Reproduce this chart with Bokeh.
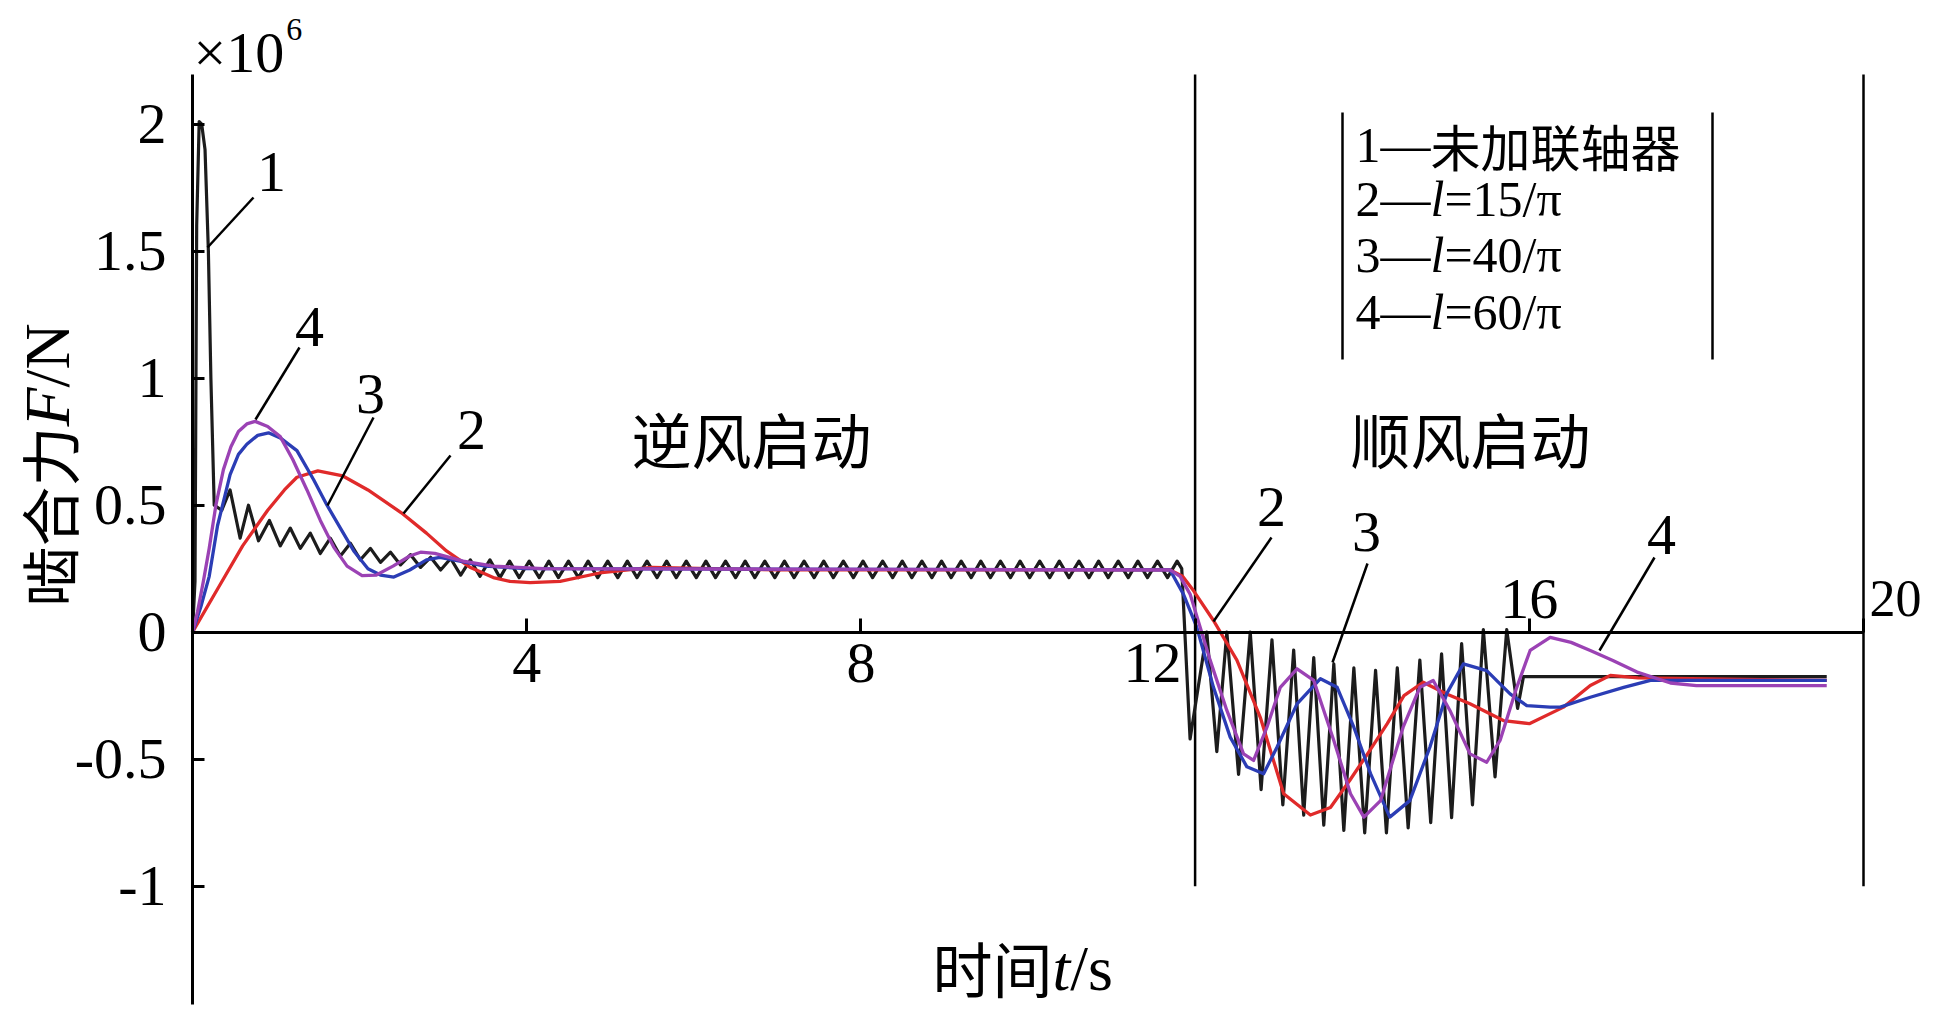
import math
from bokeh.plotting import figure
from bokeh.models import Range1d, FixedTicker, LinearAxis
from bokeh.core.properties import value
from bokeh.embed import file_html
from bokeh.resources import INLINE

# ---------------- data ----------------
y_ticks = [-1, -0.5, 0, 0.5, 1, 1.5, 2]
y_tick_labels = ["-1", "-0.5", "0", "0.5", "1", "1.5", "2"]
x_ticks = [4, 8, 12, 16, 20]
x_tick_labels = ["4", "8", "12", "16", "20"]
phase_bounds = [12, 20]
phase_names = ["逆风启动", "顺风启动"]

# curve 1: without coupling (black)
black_t = [0, 0.03, 0.05, 0.08, 0.11, 0.15, 0.19, 0.22, 0.26, 0.35, 0.45, 0.57, 0.67, 0.79, 0.92,
           1.05, 1.17, 1.29, 1.41, 1.53, 1.65, 1.77, 1.89, 2.01, 2.13, 2.25, 2.37, 2.49, 2.61,
           2.73, 2.85, 2.97,
           3.09, 3.21, 3.325, 3.44, 3.56, 3.68, 3.795, 3.91, 4.03, 4.15, 4.265, 4.38, 4.50, 4.62,
           4.735, 4.85, 4.97, 5.09, 5.205, 5.32, 5.44, 5.56, 5.675, 5.79, 5.91, 6.03, 6.145, 6.26,
           6.38, 6.50, 6.615, 6.73, 6.85, 6.97, 7.085, 7.20, 7.32, 7.44, 7.555, 7.67, 7.79, 7.91,
           8.025, 8.14, 8.26, 8.38, 8.495, 8.61, 8.73, 8.85, 8.965, 9.08, 9.20, 9.32, 9.435, 9.55,
           9.67, 9.79, 9.905, 10.02, 10.14, 10.26, 10.375, 10.49, 10.61, 10.73, 10.845, 10.96,
           11.08, 11.20, 11.315, 11.43, 11.55, 11.67, 11.785,
           11.84, 11.94, 12.14, 12.26, 12.38, 12.52, 12.66, 12.79, 12.92, 13.05, 13.18, 13.30,
           13.42, 13.54, 13.66, 13.78, 13.90, 14.03, 14.16, 14.29, 14.42, 14.55, 14.69, 14.82,
           14.95, 15.07, 15.19, 15.32, 15.45, 15.59, 15.73, 15.86, 15.93, 19.56]
black_F = [0, 0.20, 1.60, 2.01, 2.00, 1.90, 1.50, 1.00, 0.50, 0.48, 0.56, 0.37, 0.50, 0.36, 0.44,
           0.34, 0.41, 0.33, 0.39, 0.31, 0.37, 0.30, 0.35, 0.285, 0.33, 0.275, 0.315, 0.265, 0.305,
           0.255, 0.295, 0.245,
           0.29, 0.225, 0.285, 0.22, 0.285, 0.215, 0.28, 0.215, 0.28, 0.215, 0.28, 0.215, 0.28, 0.215,
           0.28, 0.215, 0.28, 0.215, 0.28, 0.215, 0.28, 0.215, 0.28, 0.215, 0.28, 0.215, 0.28, 0.215,
           0.28, 0.215, 0.28, 0.215, 0.28, 0.215, 0.28, 0.215, 0.28, 0.215, 0.28, 0.215, 0.28, 0.215,
           0.28, 0.215, 0.28, 0.215, 0.28, 0.215, 0.28, 0.215, 0.28, 0.215, 0.28, 0.215, 0.28, 0.215,
           0.28, 0.215, 0.28, 0.215, 0.28, 0.215, 0.28, 0.215, 0.28, 0.215, 0.28, 0.215,
           0.28, 0.215, 0.28, 0.215, 0.28, 0.215, 0.28,
           0.25, -0.42, 0.0, -0.47, 0.0, -0.56, 0.0, -0.62, -0.03, -0.68, -0.07, -0.72,
           -0.10, -0.76, -0.125, -0.78, -0.14, -0.79, -0.15, -0.79, -0.14, -0.77, -0.11, -0.75,
           -0.085, -0.73, -0.045, -0.68, 0.01, -0.57, 0.01, -0.30, -0.175, -0.175]

# curve 2: l = 15/pi (red)
red_t = [0, 0.3, 0.6, 0.9, 1.1, 1.25, 1.5, 1.8, 2.1, 2.5, 2.8, 3.04, 3.32, 3.6, 3.8, 4.04,
         4.4, 4.9, 5.5, 6.2, 7.0, 11.7, 11.85, 11.98, 12.22, 12.5, 12.78, 13.06, 13.38, 13.62,
         13.85, 14.09, 14.3, 14.5, 14.73, 15.01, 15.29, 15.69, 16.0, 16.41, 16.73, 16.97, 17.3,
         19.56]
red_F = [0, 0.17, 0.34, 0.48, 0.56, 0.61, 0.635, 0.615, 0.56, 0.47, 0.39, 0.32, 0.256, 0.215,
         0.20, 0.195, 0.20, 0.235, 0.255, 0.25, 0.245, 0.245, 0.22, 0.164, 0.046, -0.11, -0.335,
         -0.636, -0.72, -0.69, -0.584, -0.466, -0.36, -0.25, -0.197, -0.243, -0.282, -0.348,
         -0.36, -0.295, -0.21, -0.17, -0.18, -0.19]

# curve 3: l = 40/pi (blue)
blue_t = [0, 0.1, 0.2, 0.3, 0.45, 0.55, 0.65, 0.78, 0.91, 1.05, 1.25, 1.45, 1.61, 1.77, 1.93,
          2.1, 2.25, 2.41, 2.6, 2.8, 2.96, 3.2, 3.5, 4.0, 11.7, 11.86, 12.02, 12.22, 12.42, 12.62,
          12.82, 12.98, 13.22, 13.5, 13.7, 13.9, 14.1, 14.33, 14.57, 14.81, 15.01, 15.21, 15.49,
          15.77, 15.97, 16.25, 16.37, 16.73, 17.13, 17.45, 19.56]
blue_F = [0, 0.10, 0.22, 0.42, 0.62, 0.70, 0.74, 0.775, 0.785, 0.765, 0.715, 0.60, 0.50, 0.41,
          0.32, 0.25, 0.225, 0.217, 0.245, 0.285, 0.295, 0.28, 0.26, 0.25, 0.245, 0.15, 0.02,
          -0.217, -0.413, -0.53, -0.557, -0.453, -0.282, -0.183, -0.217, -0.374, -0.557, -0.728,
          -0.663, -0.453, -0.243, -0.125, -0.151, -0.243, -0.289, -0.295, -0.295, -0.256,
          -0.217, -0.19, -0.19]

# curve 4: l = 60/pi (purple)
purple_t = [0, 0.06, 0.13, 0.2, 0.28, 0.37, 0.46, 0.55, 0.65, 0.75, 0.9, 1.05, 1.2, 1.37, 1.53,
            1.69, 1.85, 2.03, 2.2, 2.4, 2.6, 2.73, 2.9, 3.24, 3.6, 4.2, 11.7, 11.82, 11.94, 12.18,
            12.38, 12.58, 12.7, 12.86, 13.02, 13.22, 13.42, 13.66, 13.86, 14.02, 14.22, 14.49,
            14.69, 14.85, 15.05, 15.29, 15.49, 15.65, 15.85, 16.01, 16.25, 16.5, 16.73, 17.0,
            17.29, 17.69, 18.0, 19.56]
purple_F = [0, 0.08, 0.20, 0.33, 0.50, 0.64, 0.73, 0.79, 0.82, 0.83, 0.81, 0.77, 0.68, 0.56,
            0.44, 0.335, 0.26, 0.223, 0.225, 0.26, 0.30, 0.315, 0.31, 0.28, 0.26, 0.25, 0.245,
            0.22, 0.15, -0.11, -0.308, -0.479, -0.505, -0.374, -0.217, -0.144, -0.19, -0.426,
            -0.636, -0.728, -0.663, -0.374, -0.217, -0.19, -0.308, -0.479, -0.512, -0.426,
            -0.217, -0.072, -0.02, -0.04, -0.072, -0.111, -0.157, -0.20, -0.21, -0.21]

legend_nums = ["1", "2", "3", "4"]
legend_sym = ["", "l", "l", "l"]
legend_rest = ["未加联轴器", "=15/π", "=40/π", "=60/π"]

# ---------------- layout (reference pixel geometry) ----------------
W, H = 1922, 1011
X0, XS = 192.0, 83.55     # ref px of t=0, px per second
Y0, YS = 631.7, 254.0     # ref px of F=0, px per 1e6 N


def t_of(x):
    return (x - X0) / XS


def f_of(y):
    return (Y0 - y) / YS


SERIF = "Liberation Serif"
CJK = "Noto Sans CJK SC"
EM = {"0": .5, "1": .5, "2": .5, "3": .5, "4": .5, "5": .5, "6": .5, "7": .5, "8": .5, "9": .5,
      "—": 1.0, "=": .564, "/": .278, "π": .55, "×": .564, "l": .278, "t": .278, "F": .611,
      "N": .722, "s": .389, ".": .25, "-": .333}


def w(s, size):
    return sum(EM.get(c, 1.0) for c in s) * size


p = figure(width=W, height=H, title=None,
           x_range=Range1d(t_of(0), t_of(W)), y_range=Range1d(f_of(H), f_of(0)),
           output_backend="svg", toolbar_location=None,
           x_axis_location=None, y_axis_location=None, min_border=0)
p.outline_line_color = None
p.grid.visible = False
p.background_fill_color = "white"
p.border_fill_color = "white"

# y axis drawn at t = 0
yax = LinearAxis(fixed_location=0, bounds=(f_of(1004), f_of(74)),
                 ticker=FixedTicker(ticks=y_ticks),
                 major_label_overrides={float(k): v for k, v in zip(y_ticks, y_tick_labels)},
                 axis_line_width=3, axis_line_color="black",
                 major_tick_in=12, major_tick_out=0, major_tick_line_width=3,
                 major_tick_line_color="black", minor_tick_in=0, minor_tick_out=0,
                 major_label_text_font=SERIF, major_label_text_font_size="58px",
                 major_label_text_color="black", major_label_standoff=26)
p.add_layout(yax, "left")

# x axis drawn at F = 0 (labels placed by hand)
xax = LinearAxis(fixed_location=0, bounds=(0, phase_bounds[-1]),
                 ticker=FixedTicker(ticks=x_ticks),
                 major_label_overrides={float(k): "" for k in x_ticks},
                 axis_line_width=3, axis_line_color="black",
                 major_tick_in=14, major_tick_out=0, major_tick_line_width=3,
                 major_tick_line_color="black", minor_tick_in=0, minor_tick_out=0,
                 major_label_text_font_size="1px")
p.add_layout(xax, "below")


def txt(x, y, s, size, font=SERIF, style="normal", align="left", baseline="middle", angle=0.0):
    p.text(x=[t_of(x)], y=[f_of(y)], text=[s], text_font=value(font),
           text_font_size=value(f"{size}px"), text_font_style=style,
           text_align=align, text_baseline=baseline, text_color="black", angle=angle)


# phase separators
p.segment(x0=phase_bounds, y0=[-1] * 2, x1=phase_bounds, y1=[f_of(74)] * 2,
          line_color="black", line_width=2.5)

# x tick labels
xl_pos = {"4": (None, 662, "center", 58), "8": (None, 662, "center", 58),
          "12": (1181, 662, "right", 58), "16": (None, 598, "center", 58),
          "20": (1869, 598, "left", 52)}
for tv, lab in zip(x_ticks, x_tick_labels):
    xx, yy, al, fs = xl_pos[lab]
    xpx = X0 + tv * XS if xx is None else xx
    txt(xpx, yy, lab, fs, align=al)

# multiplier
txt(193, 52, "×10", 58)
txt(193 + w("×10", 58) + 2, 29, "6", 32)

# curves
p.line(black_t, black_F, line_color="#1c1c1c", line_width=3.2, line_join="round")
p.line(red_t, red_F, line_color="#e02a2a", line_width=3.3, line_join="round")
p.line(blue_t, blue_F, line_color="#2b3db5", line_width=3.3, line_join="round")
p.line(purple_t, purple_F, line_color="#9b42b4", line_width=3.3, line_join="round")

# curve number labels with leader lines
nums = [("1", 271, 171), ("4", 309, 326), ("3", 370, 393), ("2", 471, 429),
        ("2", 1271, 506), ("3", 1366, 531), ("4", 1661, 534)]
for s, x, y in nums:
    txt(x, y, s, 58, align="center")
leaders = [(253, 197, 207, 247), (299, 347, 255, 419), (373, 417, 327, 505), (450, 455, 403, 513),
           (1271, 537, 1213, 621), (1367, 563, 1332, 662), (1654, 557, 1599, 650)]
p.segment(x0=[t_of(a[0]) for a in leaders], y0=[f_of(a[1]) for a in leaders],
          x1=[t_of(a[2]) for a in leaders], y1=[f_of(a[3]) for a in leaders],
          line_color="black", line_width=2.5)

# phase names
txt(631, 437, phase_names[0], 60, font=CJK)
txt(1350, 437, phase_names[1], 60, font=CJK)

# legend box
p.segment(x0=[t_of(1342), t_of(1712)], y0=[f_of(359)] * 2, x1=[t_of(1342), t_of(1712)],
          y1=[f_of(112)] * 2, line_color="black", line_width=2.5)
rows_y = [144, 198, 254, 311]
LS = 50
for num, sym, rest, yy in zip(legend_nums, legend_sym, legend_rest, rows_y):
    x = 1355
    txt(x, yy, num + "—", LS)
    x += w(num + "—", LS)
    if sym:
        txt(x, yy, sym, LS, style="italic")
        x += w(sym, LS)
        txt(x, yy, rest, LS)
    else:
        txt(x, yy, rest, LS, font=CJK)

# x axis title: 时间 t/s
XL_Y = 966
x = 932
txt(x, XL_Y, "时间", 60, font=CJK)
x += w("时间", 60)
txt(x, XL_Y + 2, "t", 64, style="italic")
x += w("t", 64)
txt(x, XL_Y + 2, "/s", 64)

# y axis title: 啮合力 F/N (rotated, reading upwards)
YL_X, YL_BOTTOM = 47, 606
yb = YL_BOTTOM
txt(YL_X, yb, "啮合力", 60, font=CJK, angle=math.pi / 2)
yb -= w("啮合力", 60)
txt(YL_X, yb, "F", 64, style="italic", angle=math.pi / 2)
yb -= w("F", 64)
txt(YL_X, yb, "/N", 64, angle=math.pi / 2)

open("out.html", "w").write(file_html(p, INLINE))
